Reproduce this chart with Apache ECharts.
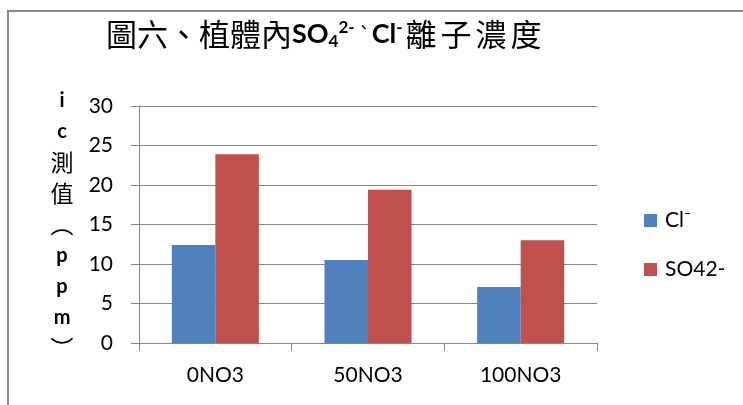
<!DOCTYPE html>
<html>
<head>
<meta charset="utf-8">
<script src="https://cdn.jsdelivr.net/npm/echarts@6/dist/echarts.min.js"></script>
<style>
  html, body { margin: 0; padding: 0; background: #fff; }
  #chart { width: 743px; height: 405px; }
</style>
</head>
<body>
<div id="chart"></div>
<script>
// Ion concentrations measured in plant tissue (ppm) per nitrate treatment
const categories = ['0NO3', '50NO3', '100NO3'];
const chlorideValues = [12.4, 10.5, 7.1];
const sulfateValues = [23.9, 19.4, 13.0];
const seriesNames = ['Cl⁻', 'SO42-'];
const yTicks = { min: 0, max: 30, interval: 5 };

const latin = 'Lato, "Open Sans", sans-serif';
const cjk = '"Noto Sans CJK TC", "Noto Sans CJK SC", sans-serif';
const gridColor = '#878787';

// Vertical stacked axis title: one glyph per line
const axisNameChars = ['i', 'c', '測', '值', '︵', 'p', 'p', 'm', '︶'];
const axisName = axisNameChars
  .map(ch => (/[a-z]/.test(ch) ? '{l|' + ch + '}' : '{h|' + ch + '}'))
  .join('\n');

// Title tail is set a little wider apart, one glyph per token
const titleTail = ['離', '子', '濃', '度'].map(ch => '{h2|' + ch + '}').join('');

const chart = echarts.init(document.getElementById('chart'), null, { renderer: 'canvas' });

chart.setOption({
  backgroundColor: '#ffffff',
  animation: false,
  graphic: [{
    type: 'rect',
    shape: { x: 8, y: 11, width: 900, height: 600 },
    style: { fill: 'none', stroke: '#898989', lineWidth: 2 },
    silent: true
  }],
  title: {
    left: 101,
    top: 14,
    text: '{h|圖六、植體內}{b|SO}{sub|4}{sup|2-}{dot|、}{b|Cl}{sup|-}' + titleTail,
    textStyle: {
      fontWeight: 'normal',
      rich: {
        h: { fontFamily: cjk, fontWeight: 'normal', fontSize: 31, color: '#000' },
        h2: { fontFamily: cjk, fontWeight: 'normal', fontSize: 31, color: '#000', padding: [0, 2, 0, 2] },
        b: { fontFamily: latin, fontWeight: 'bold', fontSize: 27, color: '#000' },
        sub: { fontFamily: latin, fontWeight: 'bold', fontSize: 17, color: '#000', verticalAlign: 'bottom', padding: [14, 0, 0, 0] },
        sup: { fontFamily: latin, fontWeight: 'bold', fontSize: 17, color: '#000', verticalAlign: 'top', padding: [0, 1, 14, 0] },
        dot: { fontFamily: cjk, fontWeight: 'normal', fontSize: 16, color: '#000', verticalAlign: 'top', padding: [0, 0, 14, 0] }
      }
    }
  },
  legend: {
    orient: 'vertical',
    left: 639,
    top: 205,
    icon: 'rect',
    itemWidth: 13,
    itemHeight: 13,
    itemGap: 28,
    data: seriesNames,
    textStyle: { fontFamily: latin, fontSize: 21, color: '#000', padding: [0, 0, 0, 3] }
  },
  grid: { left: 139, right: 146, top: 106, bottom: 62, containLabel: false },
  xAxis: {
    type: 'category',
    data: categories,
    axisLine: { lineStyle: { color: gridColor, width: 1 } },
    axisTick: { show: true, length: 8, lineStyle: { color: gridColor } },
    axisLabel: { fontFamily: latin, fontSize: 21, color: '#000', margin: 22 }
  },
  yAxis: {
    type: 'value',
    min: yTicks.min,
    max: yTicks.max,
    interval: yTicks.interval,
    name: axisName,
    nameLocation: 'middle',
    nameRotate: 0,
    nameGap: 77,
    nameTextStyle: {
      align: 'center',
      verticalAlign: 'middle',
      rich: {
        l: { fontFamily: latin, fontWeight: 'bold', fontSize: 20, color: '#000', lineHeight: 31 },
        h: { fontFamily: cjk, fontWeight: 'normal', fontSize: 23, color: '#000', lineHeight: 31 }
      }
    },
    axisLine: { show: true, lineStyle: { color: gridColor, width: 1 } },
    axisTick: { show: true, length: 8, lineStyle: { color: gridColor } },
    splitLine: { show: true, lineStyle: { color: gridColor, width: 1 } },
    axisLabel: { fontFamily: latin, fontSize: 21, color: '#000', margin: 26 }
  },
  series: [
    {
      name: seriesNames[0],
      type: 'bar',
      data: chlorideValues,
      barGap: '0%',
      barCategoryGap: '43%',
      itemStyle: { color: '#4F81BD' }
    },
    {
      name: seriesNames[1],
      type: 'bar',
      data: sulfateValues,
      barGap: '0%',
      barCategoryGap: '43%',
      itemStyle: { color: '#C0504D' }
    }
  ]
});
</script>
</body>
</html>
